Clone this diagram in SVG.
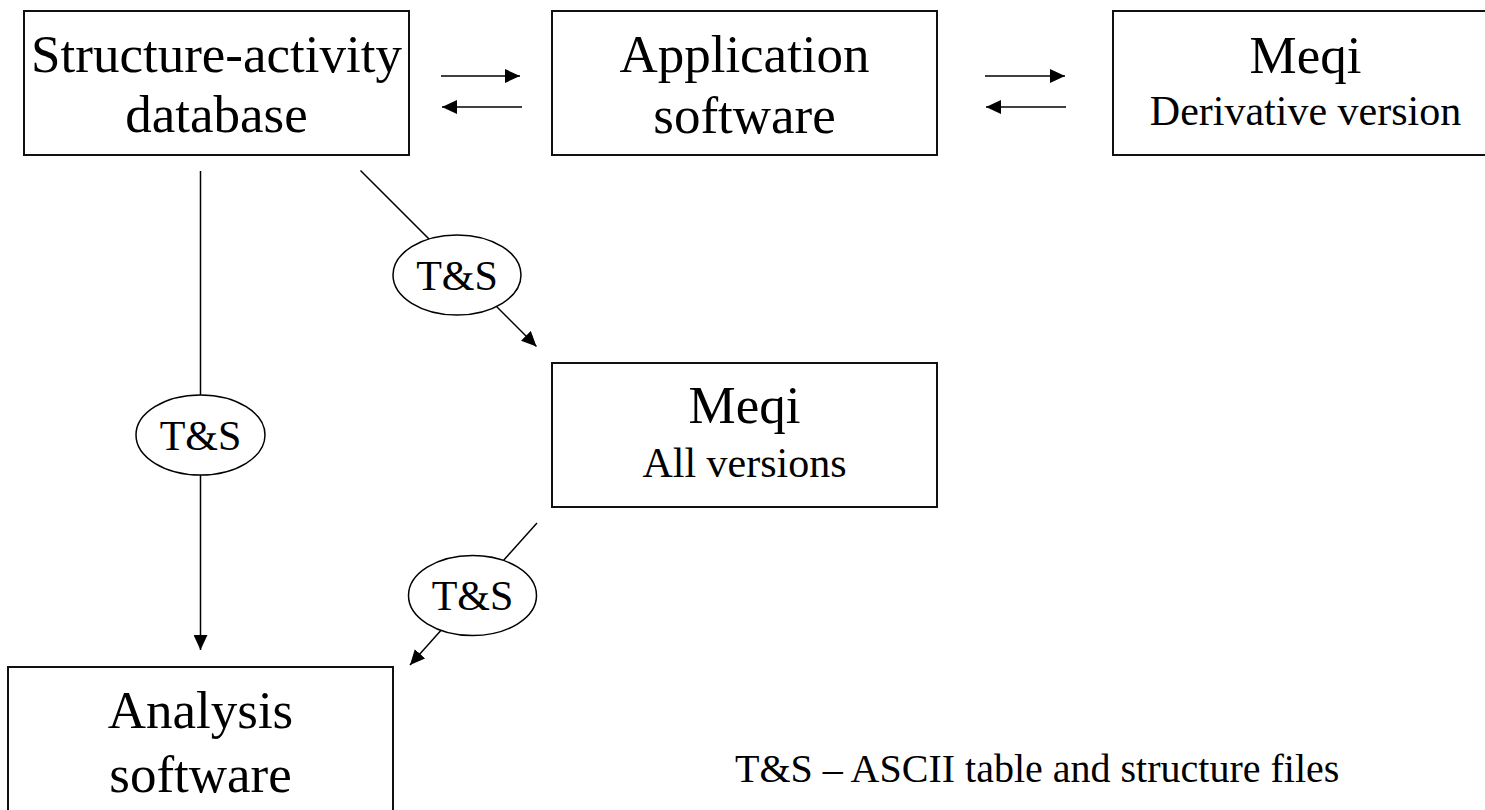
<svg xmlns="http://www.w3.org/2000/svg" width="1485" height="810" viewBox="0 0 1485 810">
  <defs>
    <marker id="arrow" markerUnits="userSpaceOnUse" markerWidth="15" markerHeight="14" refX="15" refY="7" orient="auto">
      <path d="M0,0 L15,7 L0,14 z" fill="#000"/>
    </marker>
    <style>
      .box { fill: #fff; stroke: #111; stroke-width: 2; }
      .conn { fill: none; stroke: #000; stroke-width: 1.5; marker-end: url(#arrow); }
      .line { fill: none; stroke: #000; stroke-width: 1.5; }
      .lbl { fill: #fff; stroke: #000; stroke-width: 1.5; }
      .big { font-family: "Liberation Serif", "Times New Roman", serif; font-size: 53px; fill: #000; text-anchor: middle; }
      .small { font-family: "Liberation Serif", "Times New Roman", serif; font-size: 42px; fill: #000; text-anchor: middle; }
      .legend { font-family: "Liberation Serif", "Times New Roman", serif; font-size: 40px; fill: #000; }
    </style>
  </defs>
  <rect width="1485" height="810" fill="#fff"/>

  <g id="connectors">
    <line class="conn" x1="441" y1="76" x2="520" y2="76"/>
    <line class="conn" x1="522" y1="107" x2="442" y2="107"/>
    <line class="conn" x1="985" y1="76" x2="1065" y2="76"/>
    <line class="conn" x1="1066" y1="107" x2="986" y2="107"/>
    <line class="conn" x1="200.5" y1="171" x2="200.5" y2="650"/>
    <line class="conn" x1="360.5" y1="170.5" x2="536.5" y2="346.5"/>
    <line class="conn" x1="537" y1="523" x2="410" y2="665"/>
  </g>

  <g id="label-ts-1">
    <ellipse class="lbl" cx="457" cy="275" rx="64" ry="40"/>
    <text class="small" x="457" y="290">T&amp;S</text>
  </g>
  <g id="label-ts-2">
    <ellipse class="lbl" cx="200.5" cy="435" rx="64.5" ry="40"/>
    <text class="small" x="200.5" y="450">T&amp;S</text>
  </g>
  <g id="label-ts-3">
    <ellipse class="lbl" cx="472.5" cy="595.5" rx="64" ry="40"/>
    <text class="small" x="472.5" y="610">T&amp;S</text>
  </g>

  <g id="node-sa-database">
    <rect class="box" x="24" y="11" width="385" height="144"/>
    <text class="big" x="216.5" y="72">Structure-activity</text>
    <text class="big" x="216.5" y="132">database</text>
  </g>
  <g id="node-application">
    <rect class="box" x="552" y="11" width="385" height="144"/>
    <text class="big" x="744.5" y="72">Application</text>
    <text class="big" x="744.5" y="133">software</text>
  </g>
  <g id="node-meqi-derivative">
    <rect class="box" x="1113" y="11" width="385" height="144"/>
    <text class="big" x="1305.5" y="73">Meqi</text>
    <text class="small" x="1305.5" y="125">Derivative version</text>
  </g>
  <g id="node-meqi-all">
    <rect class="box" x="552" y="363" width="385" height="144"/>
    <text class="big" x="744.5" y="423">Meqi</text>
    <text class="small" x="744.5" y="477">All versions</text>
  </g>
  <g id="node-analysis">
    <rect class="box" x="8" y="667" width="385" height="150"/>
    <text class="big" x="200.5" y="728">Analysis</text>
    <text class="big" x="200.5" y="792">software</text>
  </g>

  <g id="legend">
    <text class="legend" x="735" y="782">T&amp;S – ASCII table and structure files</text>
  </g>
</svg>
